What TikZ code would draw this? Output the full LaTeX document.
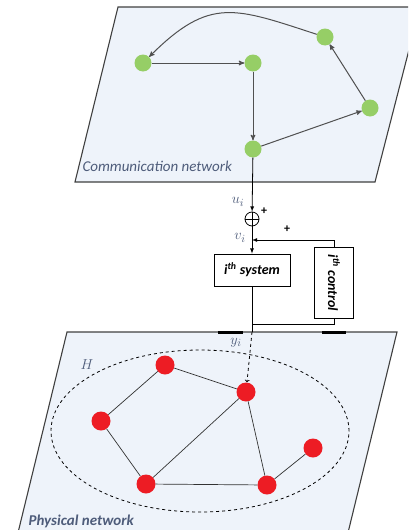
\documentclass[tikz,border=0pt]{standalone}
\usepackage{fontspec}
\setmainfont{Carlito}
\usetikzlibrary{arrows}
\definecolor{planec}{RGB}{238,243,250}
\definecolor{greenc}{RGB}{150,206,102}
\definecolor{redc}{RGB}{237,28,36}
\definecolor{labelc}{RGB}{78,92,122}
\definecolor{edgec}{RGB}{80,80,80}

\begin{document}
\begin{tikzpicture}[x=1pt,y=-1pt]
	\tikzstyle{plane}=[draw=black!75,line width=1.1pt,fill=planec]
	\tikzstyle{gnode}=[circle,fill=greenc,minimum size=17pt,inner sep=0pt]
	\tikzstyle{rnode}=[circle,fill=redc,minimum size=19pt,inner sep=0pt]
	\tikzstyle{garr}=[draw=edgec,line width=1pt,-stealth']
	\tikzstyle{redge}=[draw=black!80,line width=0.7pt]
	\tikzstyle{block}=[draw,line width=0.8pt,fill=white,inner sep=1pt,font=\bfseries\itshape\fontsize{14}{16}\selectfont]
	\tikzstyle{lab}=[text=labelc,font=\itshape\fontsize{15}{18}\selectfont]
	\tikzstyle{sumc}=[circle,draw,line width=0.8pt,minimum size=14pt,inner sep=0pt]
	\useasboundingbox (0,0) rectangle (408,530);
	\clip (0,0) rectangle (408,530);
	\draw[plane] (118,7) -- (420,7) -- (375,182) -- (75,182) -- cycle;
	\draw[plane] (67,332) -- (397,332) -- (345,545) -- (15,545) -- cycle;
	\node[lab,anchor=west] (comm) at (79,166) {Communication network};
	\node[lab,anchor=west,font=\bfseries\itshape\fontsize{15}{18}\selectfont] (phys) at (25,521) {Physical network};
	\node[gnode] (g1) at (143,63) {};
	\node[gnode] (g2) at (253,63) {};
	\node[gnode] (g3) at (325,37) {};
	\node[gnode] (g4) at (370,108) {};
	\node[gnode] (g5) at (253,149) {};
	\draw[garr] (g1) -- (g2);
	\draw[garr] (g2) -- (g5);
	\draw[garr] (g5) -- (g4);
	\draw[garr] (g4) -- (g3);
	\draw[garr] (g3) to[out=162,in=45,looseness=1.3] (g1);
	\node[sumc] (sum) at (252,219) {};
	\draw[line width=0.8pt] (sum.north) -- (sum.south) (sum.west) -- (sum.east);
	\draw[line width=0.8pt,-latex] (g5) -- (sum);
	\node[lab] (u) at (238,202) {$u_i$};
	\node[font=\bfseries\fontsize{12}{14}\selectfont] (p1) at (264,211) {+};
	\node[font=\bfseries\fontsize{12}{14}\selectfont] (p2) at (287,229) {+};
	\node[lab] (v) at (240,238) {$v_i$};
	\coordinate (vin) at (252,240);
	\node[block,minimum width=76pt,minimum height=32pt] (sys) at (252,270) {i\textsuperscript{th} system};
	\node[block,rotate=-90,minimum width=71pt,minimum height=39pt] (ctrl) at (334,283) {i\textsuperscript{th} control};
	\draw[line width=0.8pt,-latex] (sum) -- (sys);
	\draw[line width=0.8pt,-latex] (ctrl.west) |- (vin);
	\coordinate (yj) at (252,324);
	\coordinate (yout) at (252,332);
	\draw[line width=0.8pt] (sys) -- (yout);
	\draw[line width=0.8pt] (yj) -| (ctrl.east);
	\draw[line width=3pt] (218,332) -- (243,332) (322,332) -- (346,332);
	\node[lab] (y) at (236,343) {$y_i$};
	\draw[dashed,line width=0.8pt] (200,431) ellipse (149pt and 81pt);
	\node[lab] (H) at (87,365) {$H$};
	\node[rnode] (r1) at (165,365) {};
	\node[rnode] (r2) at (246,392) {};
	\node[rnode] (r3) at (101,421) {};
	\node[rnode] (r4) at (313,448) {};
	\node[rnode] (r5) at (146,484) {};
	\node[rnode] (r6) at (267,485) {};
	\draw[dashed,line width=0.8pt,->] (yout) -- (r2);
	\draw[redge] (r1) -- (r2);
	\draw[redge] (r1) -- (r3);
	\draw[redge] (r3) -- (r5);
	\draw[redge] (r5) -- (r2);
	\draw[redge] (r5) -- (r6);
	\draw[redge] (r2) -- (r6);
	\draw[redge] (r6) -- (r4);
\end{tikzpicture}
\end{document}
